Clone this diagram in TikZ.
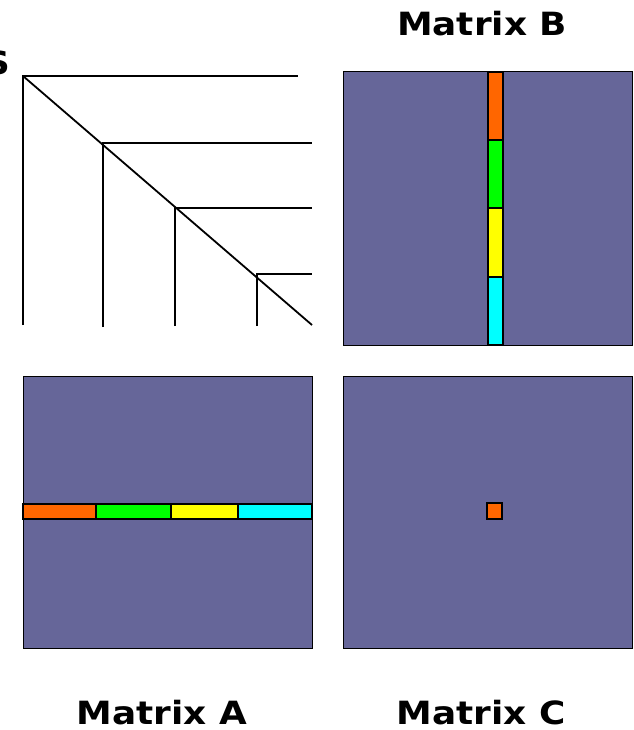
\documentclass[tikz,border=0pt]{standalone}
\usepackage{fontspec}
\setmainfont{DejaVu Sans}
\definecolor{matbg}{HTML}{666699}
\definecolor{corange}{HTML}{FF6600}
\definecolor{cgreen}{HTML}{00FF00}
\definecolor{cyellow}{HTML}{FFFF00}
\definecolor{ccyan}{HTML}{00FFFF}
\begin{document}
\begin{tikzpicture}[x=1pt,y=-1pt,
  mat/.style={fill=matbg,draw=black,line width=1pt},
  cell/.style={draw=black,line width=1.8pt},
  tri/.style={draw=black,line width=1.8pt},
  lbl/.style={font=\fontsize{32}{36}\selectfont\bfseries,inner sep=0pt,xscale=1.12}]
\useasboundingbox (0,0) rectangle (633,730);
\clip (0,0) rectangle (633,730);
% triangular structure
\draw[tri] (23,325) -- (23,76) -- (298,76);
\draw[tri] (23,76) -- (312,325);
\draw[tri] (103,327) -- (103,143) -- (312,143);
\draw[tri] (175,326) -- (175,208) -- (312,208);
\draw[tri] (257,326) -- (257,274) -- (312,274);
\node[lbl,anchor=base east] (s) at (11,75) {S};
% Matrix B
\draw[mat] (343,72) rectangle (632,345);
\draw[cell,fill=corange] (488,72) rectangle (503,140);
\draw[cell,fill=cgreen] (488,140) rectangle (503,208);
\draw[cell,fill=cyellow] (488,208) rectangle (503,277);
\draw[cell,fill=ccyan] (488,277) rectangle (503,345);
\node[lbl,anchor=base] (lb) at (482,36) {Matrix B};
% Matrix A
\draw[mat] (23,376) rectangle (312,648);
\draw[cell,fill=corange] (23,504) rectangle (96,519);
\draw[cell,fill=cgreen] (96,504) rectangle (171,519);
\draw[cell,fill=cyellow] (171,504) rectangle (238,519);
\draw[cell,fill=ccyan] (238,504) rectangle (312,519);
\node[lbl,anchor=base] (la) at (162,724) {Matrix A};
% Matrix C
\draw[mat] (343,376) rectangle (632,648);
\draw[cell,fill=corange] (487,503) rectangle (502,519);
\node[lbl,anchor=base] (lc) at (481,724) {Matrix C};
\end{tikzpicture}
\end{document}
